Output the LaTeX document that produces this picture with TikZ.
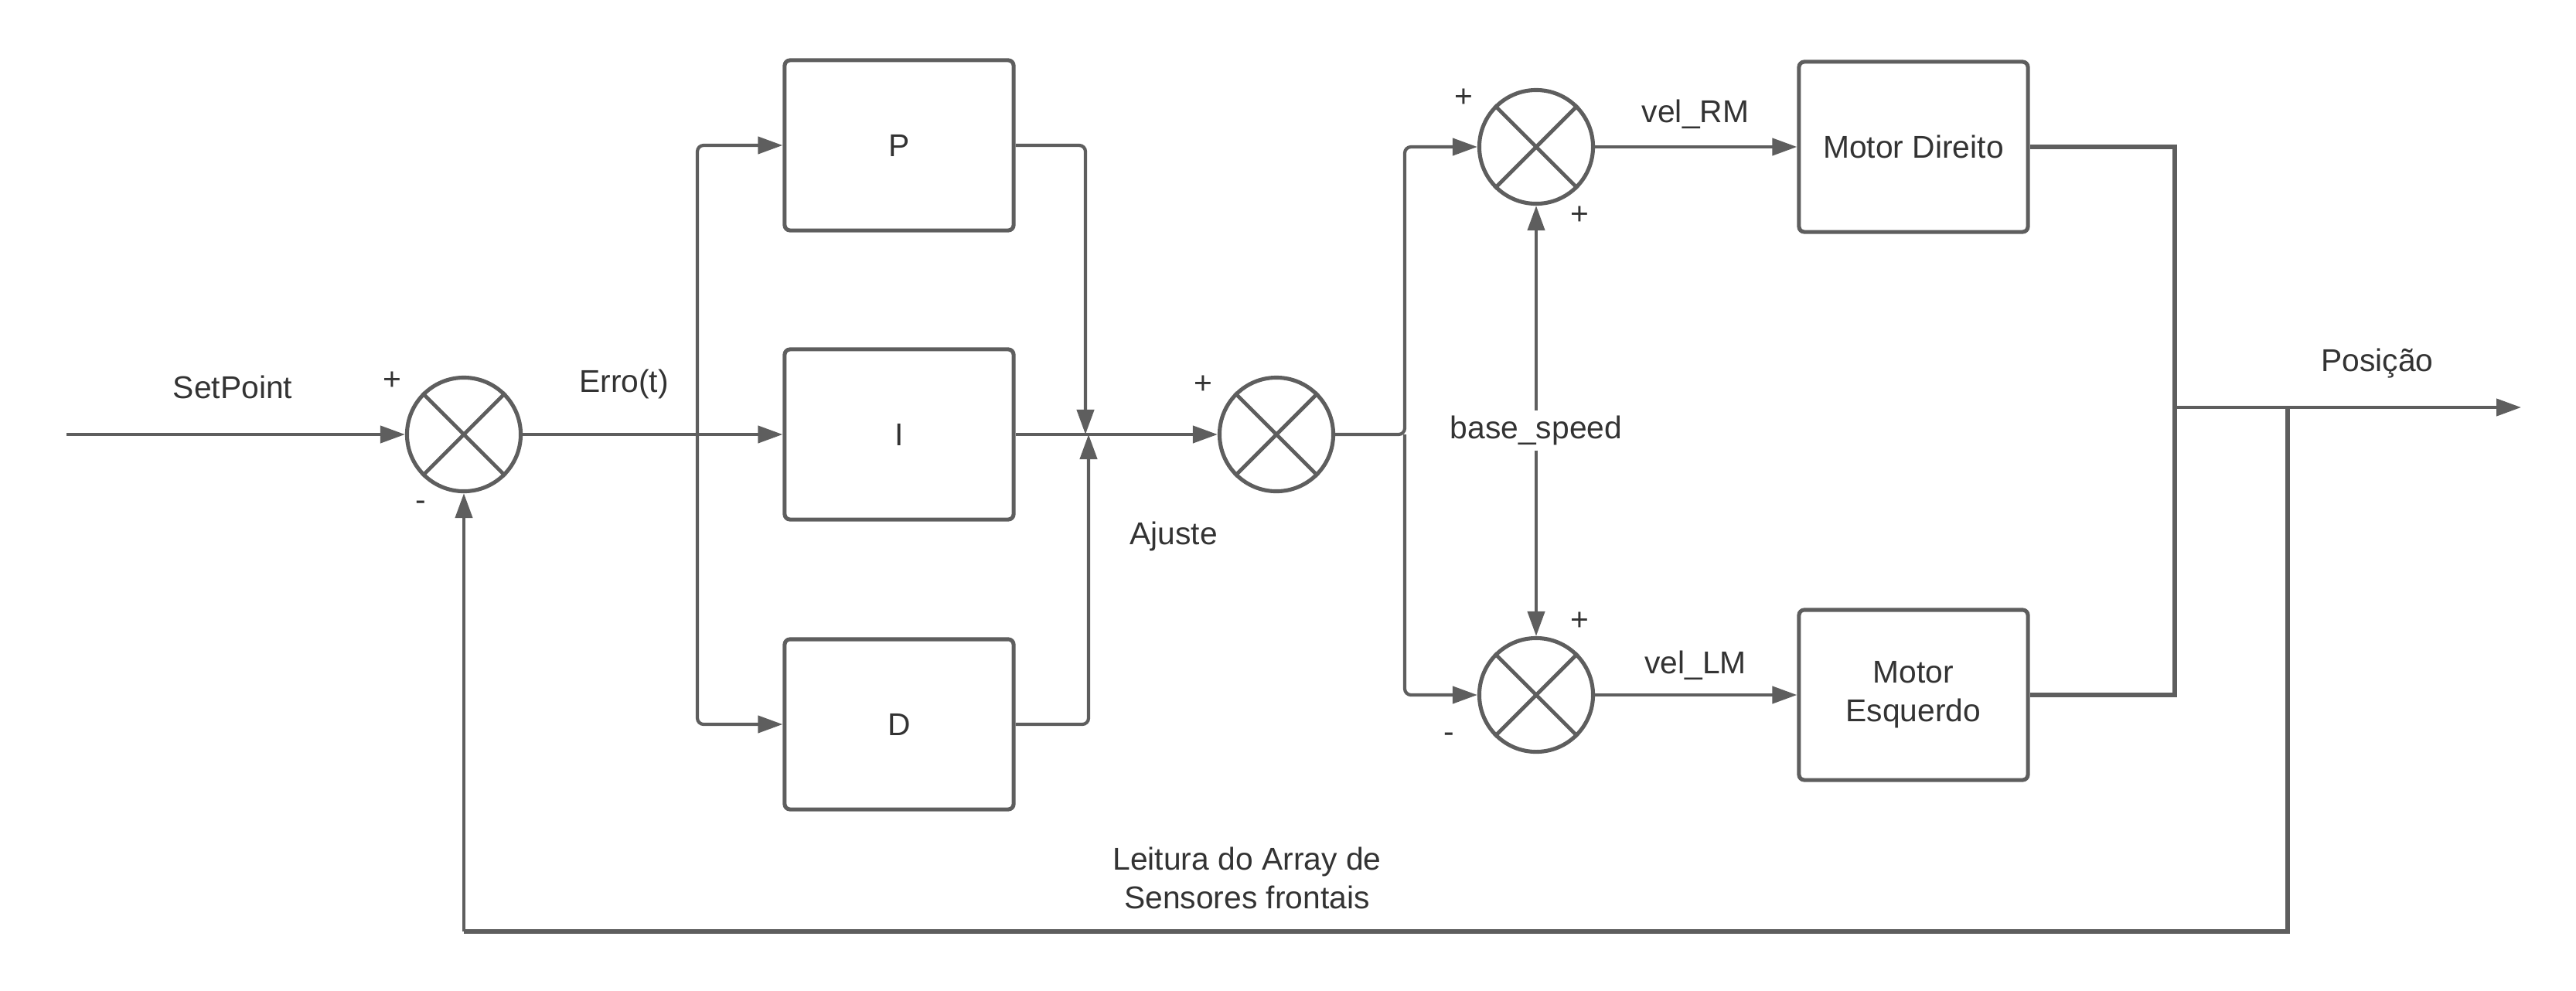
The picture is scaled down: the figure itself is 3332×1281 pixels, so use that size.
\documentclass[tikz,border=0pt]{standalone}
\usepackage{fontspec}
\setmainfont{Liberation Sans}
\usetikzlibrary{arrows.meta,calc}
\definecolor{ln}{HTML}{5E5E5E}
\definecolor{tx}{HTML}{333333}
\newcommand{\xcross}[1]{\draw[ln,line width=1.4pt] (#1.north west) -- (#1.south east) (#1.north east) -- (#1.south west);}
\begin{document}
\begin{tikzpicture}[x=0.01cm,y=-0.01cm,
  font=\fontsize{11.6}{14.2}\selectfont, text=tx,
  blk/.style={draw=ln, line width=1.45pt, rounded corners=0.07cm, minimum width=2.96cm, minimum height=2.2cm, align=center, inner sep=0pt},
  sumj/.style={draw=ln, line width=1.45pt, circle, minimum size=1.47cm, inner sep=0pt},
  con/.style={draw=ln, line width=1.2pt},
  arr/.style={con, -{Triangle[length=0.32cm,width=0.22cm]}},
  arrb/.style={con, {Triangle[length=0.32cm,width=0.22cm]}-{Triangle[length=0.32cm,width=0.22cm]}},
  thk/.style={draw=ln, line width=1.6pt, line join=miter},
  lbl/.style={inner sep=0pt, anchor=base},
  sgn/.style={inner sep=0pt},
]
\useasboundingbox (0,0) rectangle (3332,1281);
% nodes
\node[sumj] (s1) at (600,562) {};
\node[blk] (P) at (1163,188) {P};
\node[blk] (I) at (1163,562) {I};
\node[blk] (D) at (1163,937) {D};
\node[sumj] (s2) at (1651,562) {};
\node[sumj] (sR) at (1987,190) {};
\node[sumj] (sL) at (1987,899) {};
\node[blk] (MD) at (2475,190) {Motor Direito};
\node[blk] (ME) at (2475,899) {Motor\\Esquerdo};
\xcross{s1}
\xcross{s2}
\xcross{sR}
\xcross{sL}
% coordinates
\coordinate (in) at (86,562);
\coordinate (bT) at (902,188);
\coordinate (bB) at (902,937);
\coordinate (pT) at (1404,188);
\coordinate (jn) at (1404,562);
\coordinate (dB) at (1408,937);
\coordinate (jn2) at (1408,562);
\coordinate (sp) at (1817,562);
\coordinate (spT) at (1817,190);
\coordinate (spB) at (1817,899);
\coordinate (rb) at (2813,190);
\coordinate (lb) at (2813,899);
\coordinate (om) at (2813,527);
\coordinate (out) at (3261,527);
\coordinate (fb) at (2959,527);
\coordinate (fc) at (2959,1205);
\coordinate (fl) at (600,1205);
% connectors
\draw[arr] (in) -- (s1.west);
\draw[arr] (s1.east) -- (I.west);
\draw[arrb, rounded corners=0.08cm] (P.west) -- (bT) -- (bB) -- (D.west);
\draw[arr, rounded corners=0.08cm] (P.east) -- (pT) -- (jn);
\draw[arr, rounded corners=0.08cm] (D.east) -- (dB) -- (jn2);
\draw[arr] (I.east) -- (s2.west);
\draw[arr, rounded corners=0.08cm] (s2.east) -- (sp) -- (spT) -- (sR.west);
\draw[arr, rounded corners=0.08cm] (sp) -- (spB) -- (sL.west);
\node[inner sep=0.06cm] (bs) at (1987,557) {base\_speed};
\draw[arr] (bs.north) -- (sR.south);
\draw[arr] (bs.south) -- (sL.north);
\draw[arr] (sR.east) -- (MD.west);
\draw[arr] (sL.east) -- (ME.west);
\draw[thk] (MD.east) -- (rb) -- (lb) -- (ME.east);
\draw[arr] (om) -- (out);
\draw[thk] (fb) -- (fc) -- (fl);
\draw[arr] (fl) -- (s1.south);
% labels
\node[lbl] (tsp) at (301,515) {SetPoint};
\node[lbl] (ter) at (807,507) {Erro(t)};
\node[lbl] (taj) at (1518,704) {Ajuste};
\node[lbl] (trm) at (2193,158) {vel\_RM};
\node[lbl] (tlm) at (2193,871) {vel\_LM};
\node[lbl] (tpo) at (3075,480) {Posição};
\node[inner sep=0pt, align=center] (tle) at (1613,1136) {Leitura do Array de\\Sensores frontais};
% signs
\node[sgn] (p1) at (507,493) {+};
\node[sgn] (m1) at (544,654) {-};
\node[sgn] (p2) at (1556,498) {+};
\node[sgn] (p3) at (1893,127) {+};
\node[sgn] (p4) at (2043,279) {+};
\node[sgn] (p5) at (2043,804) {+};
\node[sgn] (m2) at (1874,954) {-};
\end{tikzpicture}
\end{document}
